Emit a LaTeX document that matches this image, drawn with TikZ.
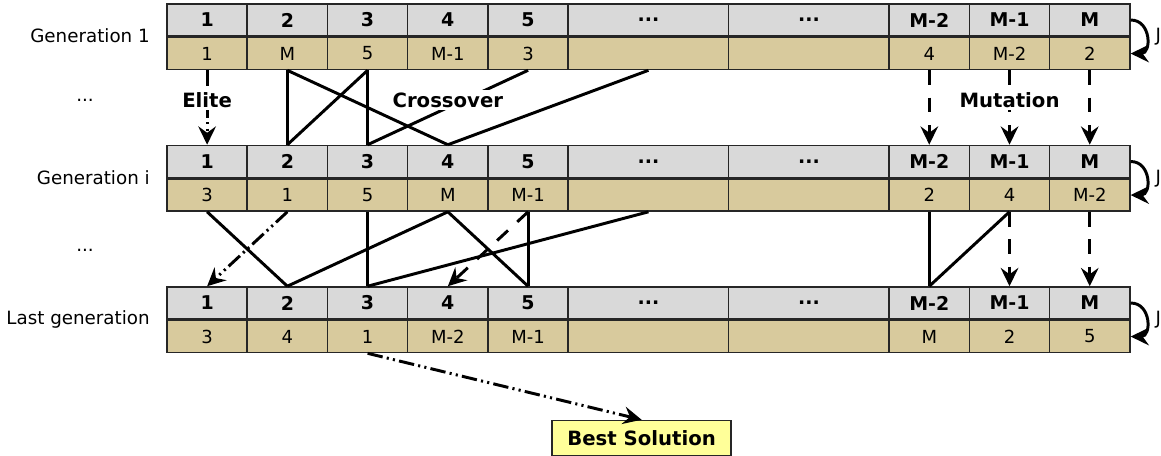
\documentclass[tikz,border=0pt]{standalone}
\usepackage{fontspec}
\setmainfont{DejaVu Sans}
\usetikzlibrary{arrows.meta}

\definecolor{hdgray}{HTML}{D9D9D9}
\definecolor{genetan}{HTML}{D8CA9D}
\definecolor{bestyel}{HTML}{FFFF99}
\def\threedots{...}

\tikzset{
  cellbase/.style={draw=black!85,line width=1.1pt,minimum height=0.8cm,inner sep=0pt},
  hcell/.style={cellbase,fill=hdgray,font=\fontsize{13.5}{16}\selectfont\bfseries},
  dcell/.style={cellbase,fill=genetan,font=\fontsize{12.8}{15}\selectfont},
  rowlab/.style={anchor=east,inner sep=0pt,font=\fontsize{13}{15}\selectfont},
  oplab/.style={fill=white,inner sep=1.5pt,font=\fontsize{14}{16}\selectfont\bfseries},
  tip/.style={-{Stealth[length=13pt,width=12.5pt,inset=4.5pt]}},
  link/.style={line width=2.1pt},
  elitearr/.style={link,tip,dash pattern=on 11pt off 3pt on 1.5pt off 3pt on 1.5pt off 3pt},
  mutarr/.style={link,tip,dash pattern=on 10.5pt off 9pt},
}

\begin{document}
\begin{tikzpicture}
\useasboundingbox (0,0) rectangle (29.025,-11.4);

% header rows of the three generations
\foreach \pfx/\top/\gen in {ga/-0.1/Generation 1, gi/-3.6375/Generation i, gl/-7.175/Last generation} {
  \node[rowlab] (\pfx lab) at (3.75,\top-0.8) {\gen};
  \foreach \c/\u/\w/\hd in {1/0.5/1/1, 2/1.5/1/2, 3/2.5/1/3, 4/3.5/1/4, 5/4.5/1/5, x/6/2/\threedots, y/8/2/\threedots, m2/9.5/1/M-2, m1/10.5/1/M-1, m/11.5/1/M}
    \node[hcell,minimum width=\w*2.006cm] (\pfx h\c) at ({4.175+2.006*\u},\top-0.4) {\hd};
}

% genes
\foreach \c/\w/\v in {1/1/1, 2/1/M, 3/1/5, 4/1/M-1, 5/1/3, x/2/{}, y/2/{}, m2/1/4, m1/1/M-2, m/1/2}
  \node[dcell,minimum width=\w*2.006cm,anchor=north] (gad\c) at (gah\c.south) {\v};
\foreach \c/\w/\v in {1/1/3, 2/1/1, 3/1/5, 4/1/M, 5/1/M-1, x/2/{}, y/2/{}, m2/1/2, m1/1/4, m/1/M-2}
  \node[dcell,minimum width=\w*2.006cm,anchor=north] (gid\c) at (gih\c.south) {\v};
\foreach \c/\w/\v in {1/1/3, 2/1/4, 3/1/1, 4/1/M-2, 5/1/M-1, x/2/{}, y/2/{}, m2/1/M, m1/1/2, m/1/5}
  \node[dcell,minimum width=\w*2.006cm,anchor=north] (gld\c) at (glh\c.south) {\v};

% loops on the right
\foreach \pfx in {ga,gi,gl} {
  \draw[link,tip] (\pfx hm.east) to[out=0,in=0,looseness=1.6] (\pfx dm.east);
  \node[anchor=west,inner sep=0pt,font=\fontsize{13}{15}\selectfont] (\pfx j) at ([xshift=0.62cm]\pfx hm.south east) {J};
}

\node (dotsa) at (2.125,-2.5) {\fontsize{13}{15}\selectfont ...};
\node (dotsb) at (2.125,-6.25) {\fontsize{13}{15}\selectfont ...};

% generation 1 -> generation i
\draw[elitearr] (gad1.south) -- (gih1.north);
\draw[link] (gad2.south) -- (gih2.north);
\draw[link] (gad2.south) -- (gih4.north);
\draw[link] (gad3.south) -- (gih3.north);
\draw[link] (gad3.south) -- (gih2.north);
\draw[link] (gad5.south) -- (gih3.north);
\draw[link] (gadx.south) -- (gih4.north);
\draw[mutarr] (gadm2.south) -- (gihm2.north);
\draw[mutarr] (gadm1.south) -- (gihm1.north);
\draw[mutarr] (gadm.south) -- (gihm.north);

\node[oplab] (elite) at (5.178,-2.5) {Elite};
\node[oplab] (cross) at (11.196,-2.5) {Crossover};
\node[oplab] (mutat) at (25.238,-2.5) {Mutation};

% generation i -> last generation
\draw[link] (gid1.south) -- (glh2.north);
\draw[elitearr] (gid2.south) -- (glh1.north);
\draw[link] (gid3.south) -- (glh3.north);
\draw[link] (gid4.south) -- (glh2.north);
\draw[link] (gid4.south) -- (glh5.north);
\draw[link] (gid5.south) -- (glh5.north);
\draw[mutarr] (gid5.south) -- (glh4.north);
\draw[link] (gidx.south) -- (glh3.north);
\draw[link] (gidm2.south) -- (glhm2.north);
\draw[link] (gidm1.south) -- (glhm2.north);
\draw[mutarr] (gidm1.south) -- (glhm1.north);
\draw[mutarr] (gidm.south) -- (glhm.north);

% best one
\node[draw=black!85,line width=1.1pt,fill=bestyel,minimum width=4.475cm,minimum height=0.875cm,inner sep=0pt,font=\fontsize{14}{16}\selectfont\bfseries] (best) at (16.04,-10.95) {Best Solution};
\draw[elitearr] (gld3.south) -- (best.north);
\end{tikzpicture}
\end{document}
